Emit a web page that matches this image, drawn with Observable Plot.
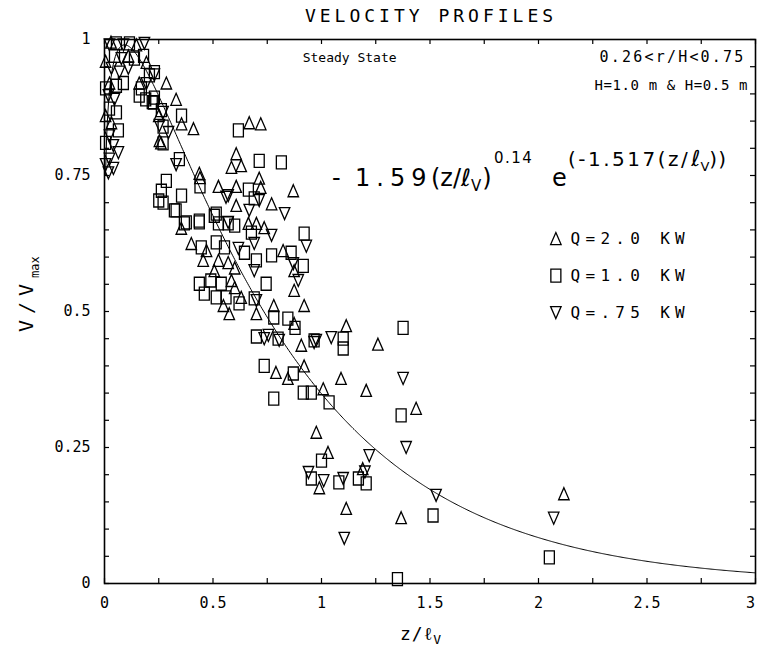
<!DOCTYPE html>
<html><head><meta charset="utf-8">
<script src="https://cdn.jsdelivr.net/npm/d3@7"></script>
<script src="https://cdn.jsdelivr.net/npm/@observablehq/plot@0.6"></script>
<style>body{margin:0;background:#fff} #chart{width:758px;height:656px}</style>
</head><body><div id="chart"></div>
<script>
// ---- data ----
const xTickLabels = [0, 0.5, 1, 1.5, 2, 2.5];
const xLastLabel = [3];
const yTickLabels = [0, 0.25, 0.5, 0.75, 1];
const xMinorTicks = [0,0.25,0.5,0.75,1,1.25,1.5,1.75,2,2.25,2.5,2.75,3];
const yMinorTicks = [0,0.05,0.1,0.15,0.2,0.25,0.3,0.35,0.4,0.45,0.5,0.55,0.6,0.65,0.7,0.75,0.8,0.85,0.9,0.95,1];

// Q = 2.0 kW (triangles)
const q20 = [[0.285,0.92],[0.33,0.89],[0.25,0.86],[0.26,0.81],[0.41,0.836],[0.44,0.746],[0.667,0.847],[0.72,0.845],[0.607,0.79],[0.585,0.765],[0.63,0.768],[0.713,0.745],[0.87,0.722],[0.525,0.73],[0.607,0.73],[0.72,0.728],[0.607,0.695],[0.77,0.698],[0.354,0.653],[0.663,0.662],[0.70,0.662],[0.736,0.654],[0.40,0.625],[0.47,0.612],[0.455,0.594],[0.823,0.612],[0.525,0.594],[0.57,0.59],[0.506,0.575],[0.874,0.575],[0.874,0.539],[0.585,0.557],[0.60,0.544],[0.63,0.526],[0.548,0.511],[0.575,0.496],[0.70,0.496],[0.78,0.511],[0.92,0.511],[0.874,0.478],[1.114,0.474],[1.26,0.44],[0.907,0.438],[0.79,0.388],[0.845,0.377],[0.92,0.40],[1.008,0.358],[1.09,0.377],[1.206,0.355],[1.436,0.322],[0.976,0.278],[1.03,0.241],[0.99,0.176],[1.19,0.211],[1.114,0.138],[1.367,0.121],[2.117,0.165],[0.253,0.814],[0.355,0.845],[0.437,0.754],[0.11,0.97],[0.147,0.99],[0.023,0.92],[0.032,0.847],[0.193,0.958],[0.60,0.58],[0.005,0.96],[0.005,0.86],[0.16,0.92],[0.03,0.995]];

// Q = 1.0 kW (squares)
const q10 = [[0.17,0.91],[0.19,0.89],[0.22,0.885],[0.27,0.84],[0.355,0.86],[0.345,0.78],[0.44,0.73],[0.617,0.833],[0.713,0.777],[0.815,0.774],[0.663,0.724],[0.69,0.708],[0.262,0.722],[0.285,0.74],[0.25,0.704],[0.355,0.713],[0.33,0.686],[0.377,0.664],[0.437,0.664],[0.506,0.676],[0.27,0.70],[0.322,0.686],[0.368,0.662],[0.437,0.667],[0.515,0.68],[0.525,0.662],[0.57,0.662],[0.60,0.658],[0.92,0.643],[0.677,0.645],[0.446,0.618],[0.515,0.627],[0.553,0.618],[0.645,0.608],[0.70,0.594],[0.77,0.603],[0.86,0.608],[0.916,0.584],[0.437,0.551],[0.49,0.557],[0.46,0.533],[0.515,0.526],[0.538,0.551],[0.56,0.526],[0.62,0.515],[0.69,0.524],[0.745,0.551],[0.78,0.489],[0.845,0.487],[0.878,0.47],[0.70,0.454],[0.80,0.45],[0.966,0.447],[1.10,0.45],[1.376,0.47],[1.10,0.432],[0.736,0.40],[0.87,0.386],[0.78,0.34],[0.916,0.351],[0.953,0.351],[1.035,0.333],[1.367,0.309],[1.0,0.226],[0.953,0.193],[1.08,0.186],[1.17,0.193],[1.206,0.184],[1.514,0.125],[2.05,0.048],[1.35,0.008],[0.23,0.94],[0.23,0.893],[0.262,0.87],[0.207,0.934],[0.064,0.833],[0.055,0.993],[0.087,0.92],[0.115,0.993],[0.046,0.97],[0.138,0.965],[0.18,0.97],[0.27,0.809],[0.225,0.884],[0.055,0.915],[0.16,0.897],[0.055,0.866],[0.023,0.873],[0.005,0.91],[0.005,0.81]];

// Q = 0.75 kW (inverted triangles)
const q075 = [[0.23,0.935],[0.713,0.704],[0.57,0.713],[0.667,0.686],[0.83,0.68],[0.57,0.664],[0.56,0.71],[0.77,0.64],[0.93,0.62],[0.617,0.616],[0.69,0.625],[0.87,0.588],[0.69,0.575],[0.893,0.557],[0.70,0.52],[0.755,0.456],[1.045,0.452],[0.976,0.447],[0.805,0.447],[0.736,0.45],[0.966,0.443],[1.376,0.377],[1.39,0.25],[0.94,0.204],[1.01,0.189],[1.10,0.193],[1.22,0.235],[1.20,0.205],[1.105,0.083],[1.528,0.162],[2.07,0.12],[0.064,0.792],[0.018,0.755],[0.041,0.805],[0.023,0.78],[0.041,0.763],[0.023,0.823],[0.078,0.965],[0.023,0.99],[0.087,0.99],[0.184,0.993],[0.032,0.947],[0.069,0.94],[0.11,0.947],[0.253,0.842],[0.27,0.866],[0.295,0.829],[0.33,0.77],[0.018,0.897],[0.046,0.89],[0.193,0.919],[0.005,0.77]];

// fitted curve parameters printed on the chart: V/Vmax = 1.59 (z/lv)^0.14 exp(-1.517 z/lv)
const fitA = 1.59, fitB = 0.14, fitC = 1.517;
const curveX = d3.range(0.005, 3.0001, 0.005);
const curve = curveX.map(x => ({x, y: fitA * Math.pow(x, fitB) * Math.exp(-fitC * x)}));

const toRows = arr => arr.map(([x, y]) => ({x, y}));

// ---- symbols ----
const triUp = {draw(c, size){const r=Math.sqrt(size/Math.PI); c.moveTo(0,-1.2*r); c.lineTo(1.05*r,1.2*r); c.lineTo(-1.05*r,1.2*r); c.closePath();}};
const triDown = {draw(c, size){const r=Math.sqrt(size/Math.PI); c.moveTo(0,1.2*r); c.lineTo(1.05*r,-1.2*r); c.lineTo(-1.05*r,-1.2*r); c.closePath();}};
const rectSym = {draw(c, size){const r=Math.sqrt(size/Math.PI); c.rect(-r,-1.3*r,2*r,2.6*r);}};

const W=758, H=656, mL=104, mR=3, mT=39, mB=73;
const innerW = W-mL-mR, innerH = H-mT-mB;
const FONT = "DejaVu Sans Mono";
const mstyle = {stroke:"black", strokeWidth:1.3, fill:"none", r:5};

const plot = Plot.plot({
  width: W, height: H,
  marginLeft: mL, marginRight: mR, marginTop: mT, marginBottom: mB,
  x: {domain: [0, 3]},
  y: {domain: [0, 1]},
  style: {fontFamily: FONT, background: "white", color: "black"},
  marks: [
    Plot.tickX(xMinorTicks, {x: d => d, insetTop: innerH - 5, stroke: "black", strokeWidth: 1.2}),
    Plot.tickX(xMinorTicks, {x: d => d, insetBottom: innerH - 5, stroke: "black", strokeWidth: 1.2}),
    Plot.tickY(yMinorTicks, {y: d => d, insetRight: innerW - 5, stroke: "black", strokeWidth: 1.2}),
    Plot.tickY(yMinorTicks, {y: d => d, insetLeft: innerW - 5, stroke: "black", strokeWidth: 1.2}),
    Plot.axisX(xTickLabels, {tickSize: 0, tickPadding: 14, fontSize: 15, label: null, tickFormat: d => String(d)}),
    Plot.axisX(xLastLabel, {tickSize: 0, tickPadding: 14, fontSize: 15, label: null, dx: -5, tickFormat: d => String(d)}),
    Plot.axisY(yTickLabels, {tickSize: 0, tickPadding: 14, fontSize: 15, label: null, tickFormat: d => String(d)}),
    Plot.line(curve, {x: "x", y: "y", stroke: "black", strokeWidth: 1}),
    Plot.dot(toRows(q20), {x: "x", y: "y", symbol: triUp, ...mstyle}),
    Plot.dot(toRows(q10), {x: "x", y: "y", symbol: rectSym, ...mstyle}),
    Plot.dot(toRows(q075), {x: "x", y: "y", symbol: triDown, ...mstyle}),
    // legend symbols
    Plot.dot([{x: 2.08, y: 0.634}], {x: "x", y: "y", symbol: triUp, ...mstyle}),
    Plot.dot([{x: 2.08, y: 0.566}], {x: "x", y: "y", symbol: rectSym, ...mstyle}),
    Plot.dot([{x: 2.08, y: 0.498}], {x: "x", y: "y", symbol: triDown, ...mstyle}),
    Plot.frame({stroke: "black", strokeWidth: 1.6})
  ]
});
document.getElementById("chart").appendChild(plot);

// ---- text annotations ----
const sx = plot.scale("x").apply, sy = plot.scale("y").apply;
const svg = d3.select(plot);

function addText(x, y, parts, opts = {}) {
  const t = svg.append("text")
    .attr("x", x).attr("y", y)
    .attr("text-anchor", opts.anchor || "start")
    .attr("fill", "black")
    .style("font-family", opts.family || FONT);
  if (opts.transform) t.attr("transform", opts.transform).attr("x", 0).attr("y", 0);
  const baseY = opts.transform ? 0 : y;
  parts.forEach(p => {
    const s = t.append("tspan").text(p.t)
      .attr("y", baseY + (p.dy || 0))
      .style("font-size", p.size + "px");
    if (p.ls != null) s.style("letter-spacing", p.ls + "px");
    if (p.dx != null) s.attr("dx", p.dx);
    if (p.x != null) s.attr("x", p.x);
    if (p.family) s.style("font-family", p.family);
  });
  return t;
}

// title
addText(431, 22, [{t: "VELOCITY PROFILES", size: 18, ls: 4}], {anchor: "middle"});
// inner annotations
addText(sx(1.132), sy(0.958), [{t: "Steady State", size: 13}], {anchor: "middle"});
addText(sx(2.62), sy(0.958), [{t: "0.26<r/H<0.75", size: 15, ls: 2.2}], {anchor: "middle"});
addText(sx(3) - 7, sy(0.906), [{t: "H=1.0 m & H=0.5 m", size: 14, ls: 0.6}], {anchor: "end"});
// legend text
addText(sx(2.15), sy(0.634) + 6, [{t: "Q=2.0 KW", size: 16, ls: 5.3}]);
addText(sx(2.15), sy(0.566) + 6, [{t: "Q=1.0 KW", size: 16, ls: 5.3}]);
addText(sx(2.15), sy(0.498) + 6, [{t: "Q=.75 KW", size: 16, ls: 5.3}]);

// equation
const SANS = "DejaVu Sans";
addText(332, 186, [
  {t: "-", size: 24, family: SANS, x: 332},
  {t: "1.59", size: 24, ls: 6, x: 355, family: SANS},
  {t: "(z/", size: 24, family: SANS, x: 431},
  {t: "\u2113", size: 24, family: SANS},
  {t: "V", size: 15, dy: 5, family: SANS},
  {t: ")", size: 24, family: SANS, dx: 1},
  {t: "0.14", size: 15, dy: -23, ls: 1.5, family: SANS, x: 494},
  {t: "e", size: 24, x: 552, family: SANS},
  {t: "(-1.517(z/", size: 20, dy: -20, ls: 2.5, family: SANS, x: 568},
  {t: "\u2113", size: 22, dy: -20, family: SANS, dx: 1},
  {t: "V", size: 13, dy: -15, family: SANS},
  {t: "))", size: 20, dy: -20, ls: 1, family: SANS}
]);

// axis labels
addText(400, 640, [
  {t: "z/\u2113", size: 18, ls: 1},
  {t: "V", size: 13, dy: 4}
]);
addText(0, 0, [
  {t: "V/V", size: 20, ls: 6},
  {t: "max", size: 12, dy: 6}
], {transform: "translate(33,332) rotate(-90)"});
</script>
</body></html>
